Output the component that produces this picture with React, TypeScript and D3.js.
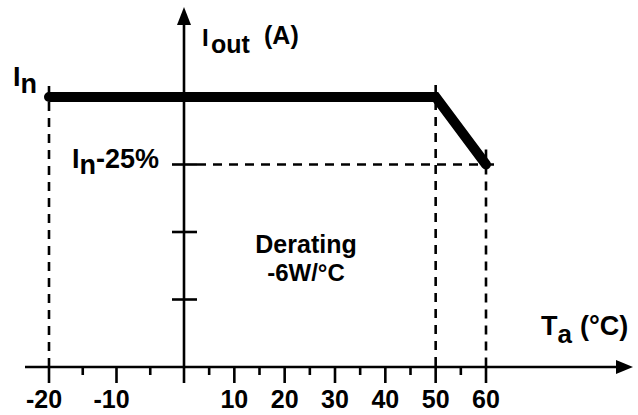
import React from 'react';
import * as d3 from 'd3';

// data
const tempPoints = [-20, 50, 60];          // Ta (°C)
const currentPct = [100, 100, 75];         // Iout as % of In
const majorTicks = [-20, -10, 10, 20, 30, 40, 50, 60];
const minorTicks = [-15, -5, 5, 15, 25, 35, 45, 55];
const yTicks = [25, 50, 75];

const W = 638;
const H = 415;
const FONT = '"Liberation Sans", Arial, Helvetica, sans-serif';

export default function App() {
  // x is split: negative side wider than positive side
  const x = d3.scaleLinear().domain([-20, 0, 60]).range([49, 184, 486]);
  const y = d3.scaleLinear().domain([0, 100]).range([367, 97]);

  const x0 = x(0);
  const y0 = y(0);

  const pts: [number, number][] = tempPoints.map((t, i) => [x(t), y(currentPct[i])]);
  const line = d3.line()(pts) || '';

  const dash = '9 7';
  const sw = 2.6;

  return (
    <svg width={W} height={H} style={{ position: 'absolute', left: 0, top: 0, background: '#fff' }}
      fontFamily={FONT} fontWeight="bold">
      {/* dashed guides */}
      <line x1={x(-20)} x2={x(-20)} y1={y(100) - 11} y2={y0} stroke="#000" strokeWidth={sw} strokeDasharray={dash} />
      <line x1={x(50)} x2={x(50)} y1={y(100) - 12} y2={y0} stroke="#000" strokeWidth={sw} strokeDasharray={dash} />
      <line x1={x(60)} x2={x(60)} y1={y(75) - 15} y2={y0} stroke="#000" strokeWidth={sw} strokeDasharray={dash} />
      <line x1={x0 + 13} x2={x(60) + 11} y1={y(75)} y2={y(75)} stroke="#000" strokeWidth={sw} strokeDasharray={dash} />

      {/* x axis */}
      <line x1={25} x2={620} y1={y0} y2={y0} stroke="#000" strokeWidth={sw} />
      <path d={`M${633},${y0} L${616},${y0 - 7} L${616},${y0 + 7} Z`} fill="#000" />
      {majorTicks.map(t => (
        <line key={'M' + t} x1={x(t)} x2={x(t)} y1={y0} y2={y0 + 16} stroke="#000" strokeWidth={sw} />
      ))}
      {minorTicks.map(t => (
        <line key={'m' + t} x1={x(t)} x2={x(t)} y1={y0} y2={y0 + 8} stroke="#000" strokeWidth={sw} />
      ))}
      {majorTicks.map(t => (
        <text key={'l' + t} x={x(t)} dx={t < 0 ? -5 : 0} y={408} textAnchor="middle" fontSize={25}>
          {t}
        </text>
      ))}

      {/* y axis */}
      <line x1={x0} x2={x0} y1={22} y2={y0 + 16} stroke="#000" strokeWidth={sw} />
      <path d={`M${x0},${7} L${x0 - 7},${25} L${x0 + 7},${25} Z`} fill="#000" />
      {yTicks.map(v => (
        <line key={'y' + v} x1={x0 - 12} x2={x0 + 13} y1={y(v)} y2={y(v)} stroke="#000" strokeWidth={sw} />
      ))}

      {/* derating curve */}
      <path d={line} fill="none" stroke="#000" strokeWidth={10} strokeLinejoin="miter" strokeLinecap="round" />

      {/* labels */}
      <text x={13} y={86} fontSize={27}>I<tspan fontSize={27} dy={7}>n</tspan></text>
      <text x={72} y={168} fontSize={27}>I<tspan dy={6}>n</tspan><tspan dy={-6}>-25%</tspan></text>
      <text x={202} y={46} fontSize={24}>I</text>
      <text x={211} y={53} fontSize={25}>out</text>
      <text x={264} y={44} fontSize={25}>(A)</text>
      <text x={541} y={335} fontSize={27}>T<tspan fontSize={26} dy={8}>a</tspan><tspan dx={8} dy={-8}>(°C)</tspan></text>
      <text x={306} y={253} textAnchor="middle" fontSize={25}>Derating</text>
      <text x={306} y={281} textAnchor="middle" fontSize={24}>-6W/°C</text>
    </svg>
  );
}
